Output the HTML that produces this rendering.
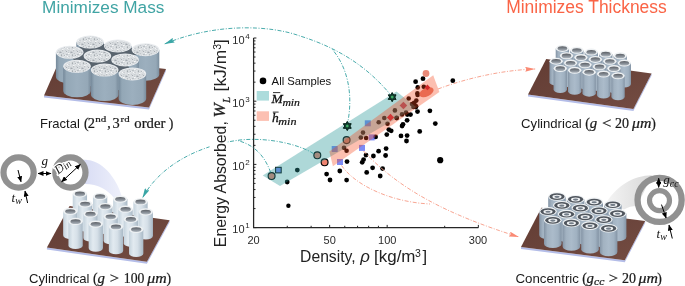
<!DOCTYPE html>
<html><head><meta charset="utf-8"><style>
html,body{margin:0;padding:0;background:#fff;width:685px;height:286px;overflow:hidden}
svg{display:block;will-change:transform}
</style></head><body>
<svg width="685" height="286" viewBox="0 0 685 286">

<defs>
 <linearGradient id="tubeG" x1="0" x2="1" y1="0" y2="0">
  <stop offset="0" stop-color="#8595a6"/>
  <stop offset="0.2" stop-color="#a2b2c1"/>
  <stop offset="0.5" stop-color="#abbbca"/>
  <stop offset="0.8" stop-color="#a0b1c1"/>
  <stop offset="1" stop-color="#8494a5"/>
 </linearGradient>
 <linearGradient id="tubeL" x1="0" x2="1" y1="0" y2="0">
  <stop offset="0" stop-color="#c4d2dc"/>
  <stop offset="0.3" stop-color="#e2eaf0"/>
  <stop offset="0.6" stop-color="#d6e0e8"/>
  <stop offset="1" stop-color="#a9b9c6"/>
 </linearGradient>
 <linearGradient id="fracG" x1="0" x2="1" y1="0" y2="0">
  <stop offset="0" stop-color="#75899a"/>
  <stop offset="0.12" stop-color="#93a7b6"/>
  <stop offset="0.5" stop-color="#9cafbe"/>
  <stop offset="0.88" stop-color="#95a8b7"/>
  <stop offset="1" stop-color="#7a8d9d"/>
 </linearGradient>
 <linearGradient id="holeG" x1="0" x2="0" y1="0" y2="1">
  <stop offset="0" stop-color="#5b5f65"/>
  <stop offset="0.55" stop-color="#858c94"/>
  <stop offset="1" stop-color="#b0b8c0"/>
 </linearGradient>
 <linearGradient id="plateG" x1="0" x2="1" y1="0" y2="1">
  <stop offset="0" stop-color="#633c33"/>
  <stop offset="0.5" stop-color="#6a443b"/>
  <stop offset="1" stop-color="#744c42"/>
 </linearGradient>
 <linearGradient id="wedgeL" x1="0" x2="1" y1="0" y2="0">
  <stop offset="0" stop-color="#d8dcf4"/>
  <stop offset="1" stop-color="#eef0fb"/>
 </linearGradient>
 <linearGradient id="wedgeR" x1="1" x2="0" y1="0" y2="0">
  <stop offset="0" stop-color="#d8d8d8"/>
  <stop offset="1" stop-color="#f4f4f4"/>
 </linearGradient>
 <pattern id="speck" width="11" height="8" patternUnits="userSpaceOnUse">
  <rect width="11" height="8" fill="#d9dde0"/>
  <circle cx="2.62" cy="4.35" r="0.52" fill="#b0b6bb"/>
  <circle cx="6.88" cy="0.52" r="0.36" fill="#b0b6bb"/>
  <circle cx="2.85" cy="1.87" r="0.80" fill="#b0b6bb"/>
  <circle cx="5.95" cy="4.40" r="0.53" fill="#9aa1a7"/>
  <circle cx="2.55" cy="1.21" r="0.77" fill="#eef0f2"/>
  <circle cx="8.15" cy="5.37" r="0.38" fill="#7d858c"/>
  <circle cx="3.31" cy="0.25" r="0.74" fill="#b0b6bb"/>
  <circle cx="6.54" cy="7.36" r="0.52" fill="#eef0f2"/>
  <circle cx="4.34" cy="6.41" r="0.55" fill="#9aa1a7"/>
  <circle cx="9.67" cy="0.78" r="0.41" fill="#f4f6f7"/>
  <circle cx="2.84" cy="5.38" r="0.70" fill="#ffffff"/>
  <circle cx="4.63" cy="6.67" r="0.61" fill="#eef0f2"/>
  <circle cx="6.43" cy="7.23" r="0.66" fill="#7d858c"/>
  <circle cx="9.42" cy="7.93" r="0.65" fill="#9aa1a7"/>
  <circle cx="7.68" cy="2.61" r="0.59" fill="#8c939a"/>
  <circle cx="7.85" cy="1.69" r="0.72" fill="#ffffff"/>
  <circle cx="3.13" cy="0.51" r="0.73" fill="#b0b6bb"/>
  <circle cx="0.97" cy="6.40" r="0.53" fill="#9aa1a7"/>
  <circle cx="0.22" cy="3.42" r="0.54" fill="#8c939a"/>
  <circle cx="0.49" cy="4.92" r="0.37" fill="#fbfcfc"/>
  <circle cx="6.06" cy="7.38" r="0.48" fill="#f4f6f7"/>
  <circle cx="10.98" cy="2.48" r="0.38" fill="#7d858c"/>
  <circle cx="10.44" cy="7.77" r="0.48" fill="#ffffff"/>
  <circle cx="1.72" cy="0.34" r="0.74" fill="#fbfcfc"/>
  <circle cx="3.96" cy="1.11" r="0.74" fill="#eef0f2"/>
  <circle cx="5.06" cy="4.16" r="0.64" fill="#8c939a"/>
 </pattern>
 <marker id="ahT" markerWidth="10" markerHeight="5" refX="10" refY="2.5" orient="auto" markerUnits="userSpaceOnUse">
  <path d="M0,0 L10,2.5 L0,5 L1.2,2.5 z" fill="#3aa6a6"/>
 </marker>
 <marker id="ahP" markerWidth="10" markerHeight="5" refX="10" refY="2.5" orient="auto" markerUnits="userSpaceOnUse">
  <path d="M0,0 L10,2.5 L0,5 L1.2,2.5 z" fill="#fa8a74"/>
 </marker>
 <marker id="ahK" markerWidth="6" markerHeight="5" refX="5.5" refY="2.5" orient="auto" markerUnits="userSpaceOnUse">
  <path d="M0,0 L6,2.5 L0,5 z" fill="#000"/>
 </marker>
 <marker id="ahKs" markerWidth="6" markerHeight="5" refX="0.5" refY="2.5" orient="auto" markerUnits="userSpaceOnUse">
  <path d="M6,0 L0,2.5 L6,5 z" fill="#000"/>
 </marker>
</defs>

<rect width="685" height="286" fill="#fff"/>
<path d="M82,160 C100,158 116,176 122,197 L114,198 C108,190 98,184 85,184 Z" fill="url(#wedgeL)"/>
<path d="M652,175.2 C633,175.5 617,186 607,201.5 L624,209.5 C628,207 632,206 637,206 Z" fill="url(#wedgeR)"/>
<polygon points="44,95.5 149,107.5 166,69 166,71.0 149,109.5 44,97.5" fill="#b4bde8"/>
<polygon points="44,95.5 149,107.5 166,69 61,57" fill="url(#plateG)"/>
<path d="M76.30,42.10 L76.30,66.60 A13.80,6.50 0 0 0 103.90,66.60 L103.90,42.10 Z" fill="url(#fracG)"/>
<path d="M104.00,45.90 L104.00,70.40 A13.80,6.50 0 0 0 131.60,70.40 L131.60,45.90 Z" fill="url(#fracG)"/>
<path d="M131.70,49.70 L131.70,74.20 A13.80,6.50 0 0 0 159.30,74.20 L159.30,49.70 Z" fill="url(#fracG)"/>
<path d="M55.90,52.30 L55.90,76.80 A13.80,6.50 0 0 0 83.50,76.80 L83.50,52.30 Z" fill="url(#fracG)"/>
<path d="M83.60,56.10 L83.60,80.60 A13.80,6.50 0 0 0 111.20,80.60 L111.20,56.10 Z" fill="url(#fracG)"/>
<path d="M111.30,59.90 L111.30,84.40 A13.80,6.50 0 0 0 138.90,84.40 L138.90,59.90 Z" fill="url(#fracG)"/>
<path d="M63.20,66.30 L63.20,90.80 A13.80,6.50 0 0 0 90.80,90.80 L90.80,66.30 Z" fill="url(#fracG)"/>
<path d="M90.90,70.10 L90.90,94.60 A13.80,6.50 0 0 0 118.50,94.60 L118.50,70.10 Z" fill="url(#fracG)"/>
<path d="M118.60,73.90 L118.60,98.40 A13.80,6.50 0 0 0 146.20,98.40 L146.20,73.90 Z" fill="url(#fracG)"/>
<polygon points="90.1,42.1 117.8,45.9 145.5,49.7 125.1,59.9 132.4,73.9 104.7,70.1 77,66.3 69.7,52.3" fill="#59646e"/>
<ellipse cx="90.10" cy="42.10" rx="13.80" ry="6.50" fill="#e8ebee"/>
<ellipse cx="90.10" cy="42.40" rx="12.70" ry="5.80" fill="url(#speck)"/>
<ellipse cx="117.80" cy="45.90" rx="13.80" ry="6.50" fill="#e8ebee"/>
<ellipse cx="117.80" cy="46.20" rx="12.70" ry="5.80" fill="url(#speck)"/>
<ellipse cx="145.50" cy="49.70" rx="13.80" ry="6.50" fill="#e8ebee"/>
<ellipse cx="145.50" cy="50.00" rx="12.70" ry="5.80" fill="url(#speck)"/>
<ellipse cx="69.70" cy="52.30" rx="13.80" ry="6.50" fill="#e8ebee"/>
<ellipse cx="69.70" cy="52.60" rx="12.70" ry="5.80" fill="url(#speck)"/>
<ellipse cx="97.40" cy="56.10" rx="13.80" ry="6.50" fill="#e8ebee"/>
<ellipse cx="97.40" cy="56.40" rx="12.70" ry="5.80" fill="url(#speck)"/>
<ellipse cx="125.10" cy="59.90" rx="13.80" ry="6.50" fill="#e8ebee"/>
<ellipse cx="125.10" cy="60.20" rx="12.70" ry="5.80" fill="url(#speck)"/>
<ellipse cx="77.00" cy="66.30" rx="13.80" ry="6.50" fill="#e8ebee"/>
<ellipse cx="77.00" cy="66.60" rx="12.70" ry="5.80" fill="url(#speck)"/>
<ellipse cx="104.70" cy="70.10" rx="13.80" ry="6.50" fill="#e8ebee"/>
<ellipse cx="104.70" cy="70.40" rx="12.70" ry="5.80" fill="url(#speck)"/>
<ellipse cx="132.40" cy="73.90" rx="13.80" ry="6.50" fill="#e8ebee"/>
<ellipse cx="132.40" cy="74.20" rx="12.70" ry="5.80" fill="url(#speck)"/>
<polygon points="46.9,247.6 146.9,261.8 169.6,220.3 169.6,222.3 146.9,263.8 46.9,249.6" fill="#b4bde8"/>
<polygon points="46.9,247.6 146.9,261.8 169.6,220.3 69.6,206.1" fill="url(#plateG)"/>
<path d="M72.75,193.80 L72.75,217.80 A7.15,3.60 0 0 0 87.05,217.80 L87.05,193.80 Z" fill="url(#tubeL)"/>
<ellipse cx="79.90" cy="193.80" rx="7.15" ry="3.60" fill="#eef1f3"/>
<ellipse cx="79.90" cy="194.00" rx="5.15" ry="2.38" fill="url(#holeG)"/>
<path d="M92.95,196.45 L92.95,220.45 A7.15,3.60 0 0 0 107.25,220.45 L107.25,196.45 Z" fill="url(#tubeL)"/>
<ellipse cx="100.10" cy="196.45" rx="7.15" ry="3.60" fill="#eef1f3"/>
<ellipse cx="100.10" cy="196.65" rx="5.15" ry="2.38" fill="url(#holeG)"/>
<path d="M113.15,199.10 L113.15,223.10 A7.15,3.60 0 0 0 127.45,223.10 L127.45,199.10 Z" fill="url(#tubeL)"/>
<ellipse cx="120.30" cy="199.10" rx="7.15" ry="3.60" fill="#eef1f3"/>
<ellipse cx="120.30" cy="199.30" rx="5.15" ry="2.38" fill="url(#holeG)"/>
<path d="M133.35,201.75 L133.35,225.75 A7.15,3.60 0 0 0 147.65,225.75 L147.65,201.75 Z" fill="url(#tubeL)"/>
<ellipse cx="140.50" cy="201.75" rx="7.15" ry="3.60" fill="#eef1f3"/>
<ellipse cx="140.50" cy="201.95" rx="5.15" ry="2.38" fill="url(#holeG)"/>
<path d="M78.05,203.90 L78.05,227.90 A7.15,3.60 0 0 0 92.35,227.90 L92.35,203.90 Z" fill="url(#tubeL)"/>
<ellipse cx="85.20" cy="203.90" rx="7.15" ry="3.60" fill="#eef1f3"/>
<ellipse cx="85.20" cy="204.10" rx="5.15" ry="2.38" fill="url(#holeG)"/>
<path d="M98.25,206.55 L98.25,230.55 A7.15,3.60 0 0 0 112.55,230.55 L112.55,206.55 Z" fill="url(#tubeL)"/>
<ellipse cx="105.40" cy="206.55" rx="7.15" ry="3.60" fill="#eef1f3"/>
<ellipse cx="105.40" cy="206.75" rx="5.15" ry="2.38" fill="url(#holeG)"/>
<path d="M118.45,209.20 L118.45,233.20 A7.15,3.60 0 0 0 132.75,233.20 L132.75,209.20 Z" fill="url(#tubeL)"/>
<ellipse cx="125.60" cy="209.20" rx="7.15" ry="3.60" fill="#eef1f3"/>
<ellipse cx="125.60" cy="209.40" rx="5.15" ry="2.38" fill="url(#holeG)"/>
<path d="M63.15,211.35 L63.15,235.35 A7.15,3.60 0 0 0 77.45,235.35 L77.45,211.35 Z" fill="url(#tubeL)"/>
<ellipse cx="70.30" cy="211.35" rx="7.15" ry="3.60" fill="#eef1f3"/>
<ellipse cx="70.30" cy="211.55" rx="5.15" ry="2.38" fill="url(#holeG)"/>
<path d="M138.65,211.85 L138.65,235.85 A7.15,3.60 0 0 0 152.95,235.85 L152.95,211.85 Z" fill="url(#tubeL)"/>
<ellipse cx="145.80" cy="211.85" rx="7.15" ry="3.60" fill="#eef1f3"/>
<ellipse cx="145.80" cy="212.05" rx="5.15" ry="2.38" fill="url(#holeG)"/>
<path d="M83.35,214.00 L83.35,238.00 A7.15,3.60 0 0 0 97.65,238.00 L97.65,214.00 Z" fill="url(#tubeL)"/>
<ellipse cx="90.50" cy="214.00" rx="7.15" ry="3.60" fill="#eef1f3"/>
<ellipse cx="90.50" cy="214.20" rx="5.15" ry="2.38" fill="url(#holeG)"/>
<path d="M103.55,216.65 L103.55,240.65 A7.15,3.60 0 0 0 117.85,240.65 L117.85,216.65 Z" fill="url(#tubeL)"/>
<ellipse cx="110.70" cy="216.65" rx="7.15" ry="3.60" fill="#eef1f3"/>
<ellipse cx="110.70" cy="216.85" rx="5.15" ry="2.38" fill="url(#holeG)"/>
<path d="M123.75,219.30 L123.75,243.30 A7.15,3.60 0 0 0 138.05,243.30 L138.05,219.30 Z" fill="url(#tubeL)"/>
<ellipse cx="130.90" cy="219.30" rx="7.15" ry="3.60" fill="#eef1f3"/>
<ellipse cx="130.90" cy="219.50" rx="5.15" ry="2.38" fill="url(#holeG)"/>
<path d="M68.45,221.45 L68.45,245.45 A7.15,3.60 0 0 0 82.75,245.45 L82.75,221.45 Z" fill="url(#tubeL)"/>
<ellipse cx="75.60" cy="221.45" rx="7.15" ry="3.60" fill="#eef1f3"/>
<ellipse cx="75.60" cy="221.65" rx="5.15" ry="2.38" fill="url(#holeG)"/>
<path d="M88.65,224.10 L88.65,248.10 A7.15,3.60 0 0 0 102.95,248.10 L102.95,224.10 Z" fill="url(#tubeL)"/>
<ellipse cx="95.80" cy="224.10" rx="7.15" ry="3.60" fill="#eef1f3"/>
<ellipse cx="95.80" cy="224.30" rx="5.15" ry="2.38" fill="url(#holeG)"/>
<path d="M108.85,226.75 L108.85,250.75 A7.15,3.60 0 0 0 123.15,250.75 L123.15,226.75 Z" fill="url(#tubeL)"/>
<ellipse cx="116.00" cy="226.75" rx="7.15" ry="3.60" fill="#eef1f3"/>
<ellipse cx="116.00" cy="226.95" rx="5.15" ry="2.38" fill="url(#holeG)"/>
<path d="M129.05,229.40 L129.05,253.40 A7.15,3.60 0 0 0 143.35,253.40 L143.35,229.40 Z" fill="url(#tubeL)"/>
<ellipse cx="136.20" cy="229.40" rx="7.15" ry="3.60" fill="#eef1f3"/>
<ellipse cx="136.20" cy="229.60" rx="5.15" ry="2.38" fill="url(#holeG)"/>
<polygon points="528,94.4 633.4,109.1 651.6,73.6 651.6,75.6 633.4,111.1 528,96.4" fill="#b4bde8"/>
<polygon points="528,94.4 633.4,109.1 651.6,73.6 546.2,58.9" fill="url(#plateG)"/>
<path d="M555.70,48.40 L555.70,69.40 A6.70,3.50 0 0 0 569.10,69.40 L569.10,48.40 Z" fill="url(#tubeG)"/>
<ellipse cx="562.40" cy="48.40" rx="6.70" ry="3.50" fill="#eef1f3"/>
<ellipse cx="562.40" cy="48.60" rx="4.82" ry="2.31" fill="url(#holeG)"/>
<path d="M570.15,50.25 L570.15,71.25 A6.70,3.50 0 0 0 583.55,71.25 L583.55,50.25 Z" fill="url(#tubeG)"/>
<ellipse cx="576.85" cy="50.25" rx="6.70" ry="3.50" fill="#eef1f3"/>
<ellipse cx="576.85" cy="50.45" rx="4.82" ry="2.31" fill="url(#holeG)"/>
<path d="M584.60,52.10 L584.60,73.10 A6.70,3.50 0 0 0 598.00,73.10 L598.00,52.10 Z" fill="url(#tubeG)"/>
<ellipse cx="591.30" cy="52.10" rx="6.70" ry="3.50" fill="#eef1f3"/>
<ellipse cx="591.30" cy="52.30" rx="4.82" ry="2.31" fill="url(#holeG)"/>
<path d="M599.05,53.95 L599.05,74.95 A6.70,3.50 0 0 0 612.45,74.95 L612.45,53.95 Z" fill="url(#tubeG)"/>
<ellipse cx="605.75" cy="53.95" rx="6.70" ry="3.50" fill="#eef1f3"/>
<ellipse cx="605.75" cy="54.15" rx="4.82" ry="2.31" fill="url(#holeG)"/>
<path d="M559.80,55.70 L559.80,76.70 A6.70,3.50 0 0 0 573.20,76.70 L573.20,55.70 Z" fill="url(#tubeG)"/>
<ellipse cx="566.50" cy="55.70" rx="6.70" ry="3.50" fill="#eef1f3"/>
<ellipse cx="566.50" cy="55.90" rx="4.82" ry="2.31" fill="url(#holeG)"/>
<path d="M613.50,55.80 L613.50,76.80 A6.70,3.50 0 0 0 626.90,76.80 L626.90,55.80 Z" fill="url(#tubeG)"/>
<ellipse cx="620.20" cy="55.80" rx="6.70" ry="3.50" fill="#eef1f3"/>
<ellipse cx="620.20" cy="56.00" rx="4.82" ry="2.31" fill="url(#holeG)"/>
<path d="M574.25,57.55 L574.25,78.55 A6.70,3.50 0 0 0 587.65,78.55 L587.65,57.55 Z" fill="url(#tubeG)"/>
<ellipse cx="580.95" cy="57.55" rx="6.70" ry="3.50" fill="#eef1f3"/>
<ellipse cx="580.95" cy="57.75" rx="4.82" ry="2.31" fill="url(#holeG)"/>
<path d="M588.70,59.40 L588.70,80.40 A6.70,3.50 0 0 0 602.10,80.40 L602.10,59.40 Z" fill="url(#tubeG)"/>
<ellipse cx="595.40" cy="59.40" rx="6.70" ry="3.50" fill="#eef1f3"/>
<ellipse cx="595.40" cy="59.60" rx="4.82" ry="2.31" fill="url(#holeG)"/>
<path d="M549.45,61.15 L549.45,82.15 A6.70,3.50 0 0 0 562.85,82.15 L562.85,61.15 Z" fill="url(#tubeG)"/>
<ellipse cx="556.15" cy="61.15" rx="6.70" ry="3.50" fill="#eef1f3"/>
<ellipse cx="556.15" cy="61.35" rx="4.82" ry="2.31" fill="url(#holeG)"/>
<path d="M603.15,61.25 L603.15,82.25 A6.70,3.50 0 0 0 616.55,82.25 L616.55,61.25 Z" fill="url(#tubeG)"/>
<ellipse cx="609.85" cy="61.25" rx="6.70" ry="3.50" fill="#eef1f3"/>
<ellipse cx="609.85" cy="61.45" rx="4.82" ry="2.31" fill="url(#holeG)"/>
<path d="M563.90,63.00 L563.90,84.00 A6.70,3.50 0 0 0 577.30,84.00 L577.30,63.00 Z" fill="url(#tubeG)"/>
<ellipse cx="570.60" cy="63.00" rx="6.70" ry="3.50" fill="#eef1f3"/>
<ellipse cx="570.60" cy="63.20" rx="4.82" ry="2.31" fill="url(#holeG)"/>
<path d="M617.60,63.10 L617.60,84.10 A6.70,3.50 0 0 0 631.00,84.10 L631.00,63.10 Z" fill="url(#tubeG)"/>
<ellipse cx="624.30" cy="63.10" rx="6.70" ry="3.50" fill="#eef1f3"/>
<ellipse cx="624.30" cy="63.30" rx="4.82" ry="2.31" fill="url(#holeG)"/>
<path d="M578.35,64.85 L578.35,85.85 A6.70,3.50 0 0 0 591.75,85.85 L591.75,64.85 Z" fill="url(#tubeG)"/>
<ellipse cx="585.05" cy="64.85" rx="6.70" ry="3.50" fill="#eef1f3"/>
<ellipse cx="585.05" cy="65.05" rx="4.82" ry="2.31" fill="url(#holeG)"/>
<path d="M592.80,66.70 L592.80,87.70 A6.70,3.50 0 0 0 606.20,87.70 L606.20,66.70 Z" fill="url(#tubeG)"/>
<ellipse cx="599.50" cy="66.70" rx="6.70" ry="3.50" fill="#eef1f3"/>
<ellipse cx="599.50" cy="66.90" rx="4.82" ry="2.31" fill="url(#holeG)"/>
<path d="M553.55,68.45 L553.55,89.45 A6.70,3.50 0 0 0 566.95,89.45 L566.95,68.45 Z" fill="url(#tubeG)"/>
<ellipse cx="560.25" cy="68.45" rx="6.70" ry="3.50" fill="#eef1f3"/>
<ellipse cx="560.25" cy="68.65" rx="4.82" ry="2.31" fill="url(#holeG)"/>
<path d="M607.25,68.55 L607.25,89.55 A6.70,3.50 0 0 0 620.65,89.55 L620.65,68.55 Z" fill="url(#tubeG)"/>
<ellipse cx="613.95" cy="68.55" rx="6.70" ry="3.50" fill="#eef1f3"/>
<ellipse cx="613.95" cy="68.75" rx="4.82" ry="2.31" fill="url(#holeG)"/>
<path d="M568.00,70.30 L568.00,91.30 A6.70,3.50 0 0 0 581.40,91.30 L581.40,70.30 Z" fill="url(#tubeG)"/>
<ellipse cx="574.70" cy="70.30" rx="6.70" ry="3.50" fill="#eef1f3"/>
<ellipse cx="574.70" cy="70.50" rx="4.82" ry="2.31" fill="url(#holeG)"/>
<path d="M582.45,72.15 L582.45,93.15 A6.70,3.50 0 0 0 595.85,93.15 L595.85,72.15 Z" fill="url(#tubeG)"/>
<ellipse cx="589.15" cy="72.15" rx="6.70" ry="3.50" fill="#eef1f3"/>
<ellipse cx="589.15" cy="72.35" rx="4.82" ry="2.31" fill="url(#holeG)"/>
<path d="M596.90,74.00 L596.90,95.00 A6.70,3.50 0 0 0 610.30,95.00 L610.30,74.00 Z" fill="url(#tubeG)"/>
<ellipse cx="603.60" cy="74.00" rx="6.70" ry="3.50" fill="#eef1f3"/>
<ellipse cx="603.60" cy="74.20" rx="4.82" ry="2.31" fill="url(#holeG)"/>
<path d="M611.35,75.85 L611.35,96.85 A6.70,3.50 0 0 0 624.75,96.85 L624.75,75.85 Z" fill="url(#tubeG)"/>
<ellipse cx="618.05" cy="75.85" rx="6.70" ry="3.50" fill="#eef1f3"/>
<ellipse cx="618.05" cy="76.05" rx="4.82" ry="2.31" fill="url(#holeG)"/>
<polygon points="521,247 624.8,260.2 645.2,220.9 645.2,222.9 624.8,262.2 521,249.0" fill="#b4bde8"/>
<polygon points="521,247 624.8,260.2 645.2,220.9 541.4,207.7" fill="url(#plateG)"/>
<path d="M548.20,196.50 L548.20,220.10 A8.80,4.30 0 0 0 565.80,220.10 L565.80,196.50 Z" fill="url(#tubeG)"/>
<ellipse cx="557.00" cy="196.50" rx="8.80" ry="4.30" fill="#eef1f3"/>
<ellipse cx="557.00" cy="196.65" rx="7.57" ry="3.35" fill="#50565e"/>
<ellipse cx="557.00" cy="196.80" rx="4.58" ry="1.98" fill="#f0f2f4"/>
<ellipse cx="557.00" cy="196.85" rx="2.64" ry="1.12" fill="#737d88"/>
<path d="M566.80,199.20 L566.80,222.80 A8.80,4.30 0 0 0 584.40,222.80 L584.40,199.20 Z" fill="url(#tubeG)"/>
<ellipse cx="575.60" cy="199.20" rx="8.80" ry="4.30" fill="#eef1f3"/>
<ellipse cx="575.60" cy="199.35" rx="7.57" ry="3.35" fill="#50565e"/>
<ellipse cx="575.60" cy="199.50" rx="4.58" ry="1.98" fill="#f0f2f4"/>
<ellipse cx="575.60" cy="199.55" rx="2.64" ry="1.12" fill="#737d88"/>
<path d="M585.40,201.90 L585.40,225.50 A8.80,4.30 0 0 0 603.00,225.50 L603.00,201.90 Z" fill="url(#tubeG)"/>
<ellipse cx="594.20" cy="201.90" rx="8.80" ry="4.30" fill="#eef1f3"/>
<ellipse cx="594.20" cy="202.05" rx="7.57" ry="3.35" fill="#50565e"/>
<ellipse cx="594.20" cy="202.20" rx="4.58" ry="1.98" fill="#f0f2f4"/>
<ellipse cx="594.20" cy="202.25" rx="2.64" ry="1.12" fill="#737d88"/>
<path d="M604.00,204.60 L604.00,228.20 A8.80,4.30 0 0 0 621.60,228.20 L621.60,204.60 Z" fill="url(#tubeG)"/>
<ellipse cx="612.80" cy="204.60" rx="8.80" ry="4.30" fill="#eef1f3"/>
<ellipse cx="612.80" cy="204.75" rx="7.57" ry="3.35" fill="#50565e"/>
<ellipse cx="612.80" cy="204.90" rx="4.58" ry="1.98" fill="#f0f2f4"/>
<ellipse cx="612.80" cy="204.95" rx="2.64" ry="1.12" fill="#737d88"/>
<path d="M553.00,205.30 L553.00,228.90 A8.80,4.30 0 0 0 570.60,228.90 L570.60,205.30 Z" fill="url(#tubeG)"/>
<ellipse cx="561.80" cy="205.30" rx="8.80" ry="4.30" fill="#eef1f3"/>
<ellipse cx="561.80" cy="205.45" rx="7.57" ry="3.35" fill="#50565e"/>
<ellipse cx="561.80" cy="205.60" rx="4.58" ry="1.98" fill="#f0f2f4"/>
<ellipse cx="561.80" cy="205.65" rx="2.64" ry="1.12" fill="#737d88"/>
<path d="M571.60,208.00 L571.60,231.60 A8.80,4.30 0 0 0 589.20,231.60 L589.20,208.00 Z" fill="url(#tubeG)"/>
<ellipse cx="580.40" cy="208.00" rx="8.80" ry="4.30" fill="#eef1f3"/>
<ellipse cx="580.40" cy="208.15" rx="7.57" ry="3.35" fill="#50565e"/>
<ellipse cx="580.40" cy="208.30" rx="4.58" ry="1.98" fill="#f0f2f4"/>
<ellipse cx="580.40" cy="208.35" rx="2.64" ry="1.12" fill="#737d88"/>
<path d="M590.20,210.70 L590.20,234.30 A8.80,4.30 0 0 0 607.80,234.30 L607.80,210.70 Z" fill="url(#tubeG)"/>
<ellipse cx="599.00" cy="210.70" rx="8.80" ry="4.30" fill="#eef1f3"/>
<ellipse cx="599.00" cy="210.85" rx="7.57" ry="3.35" fill="#50565e"/>
<ellipse cx="599.00" cy="211.00" rx="4.58" ry="1.98" fill="#f0f2f4"/>
<ellipse cx="599.00" cy="211.05" rx="2.64" ry="1.12" fill="#737d88"/>
<path d="M539.20,211.40 L539.20,235.00 A8.80,4.30 0 0 0 556.80,235.00 L556.80,211.40 Z" fill="url(#tubeG)"/>
<ellipse cx="548.00" cy="211.40" rx="8.80" ry="4.30" fill="#eef1f3"/>
<ellipse cx="548.00" cy="211.55" rx="7.57" ry="3.35" fill="#50565e"/>
<ellipse cx="548.00" cy="211.70" rx="4.58" ry="1.98" fill="#f0f2f4"/>
<ellipse cx="548.00" cy="211.75" rx="2.64" ry="1.12" fill="#737d88"/>
<path d="M608.80,213.40 L608.80,237.00 A8.80,4.30 0 0 0 626.40,237.00 L626.40,213.40 Z" fill="url(#tubeG)"/>
<ellipse cx="617.60" cy="213.40" rx="8.80" ry="4.30" fill="#eef1f3"/>
<ellipse cx="617.60" cy="213.55" rx="7.57" ry="3.35" fill="#50565e"/>
<ellipse cx="617.60" cy="213.70" rx="4.58" ry="1.98" fill="#f0f2f4"/>
<ellipse cx="617.60" cy="213.75" rx="2.64" ry="1.12" fill="#737d88"/>
<path d="M557.80,214.10 L557.80,237.70 A8.80,4.30 0 0 0 575.40,237.70 L575.40,214.10 Z" fill="url(#tubeG)"/>
<ellipse cx="566.60" cy="214.10" rx="8.80" ry="4.30" fill="#eef1f3"/>
<ellipse cx="566.60" cy="214.25" rx="7.57" ry="3.35" fill="#50565e"/>
<ellipse cx="566.60" cy="214.40" rx="4.58" ry="1.98" fill="#f0f2f4"/>
<ellipse cx="566.60" cy="214.45" rx="2.64" ry="1.12" fill="#737d88"/>
<path d="M576.40,216.80 L576.40,240.40 A8.80,4.30 0 0 0 594.00,240.40 L594.00,216.80 Z" fill="url(#tubeG)"/>
<ellipse cx="585.20" cy="216.80" rx="8.80" ry="4.30" fill="#eef1f3"/>
<ellipse cx="585.20" cy="216.95" rx="7.57" ry="3.35" fill="#50565e"/>
<ellipse cx="585.20" cy="217.10" rx="4.58" ry="1.98" fill="#f0f2f4"/>
<ellipse cx="585.20" cy="217.15" rx="2.64" ry="1.12" fill="#737d88"/>
<path d="M595.00,219.50 L595.00,243.10 A8.80,4.30 0 0 0 612.60,243.10 L612.60,219.50 Z" fill="url(#tubeG)"/>
<ellipse cx="603.80" cy="219.50" rx="8.80" ry="4.30" fill="#eef1f3"/>
<ellipse cx="603.80" cy="219.65" rx="7.57" ry="3.35" fill="#50565e"/>
<ellipse cx="603.80" cy="219.80" rx="4.58" ry="1.98" fill="#f0f2f4"/>
<ellipse cx="603.80" cy="219.85" rx="2.64" ry="1.12" fill="#737d88"/>
<path d="M544.00,220.20 L544.00,243.80 A8.80,4.30 0 0 0 561.60,243.80 L561.60,220.20 Z" fill="url(#tubeG)"/>
<ellipse cx="552.80" cy="220.20" rx="8.80" ry="4.30" fill="#eef1f3"/>
<ellipse cx="552.80" cy="220.35" rx="7.57" ry="3.35" fill="#50565e"/>
<ellipse cx="552.80" cy="220.50" rx="4.58" ry="1.98" fill="#f0f2f4"/>
<ellipse cx="552.80" cy="220.55" rx="2.64" ry="1.12" fill="#737d88"/>
<path d="M562.60,222.90 L562.60,246.50 A8.80,4.30 0 0 0 580.20,246.50 L580.20,222.90 Z" fill="url(#tubeG)"/>
<ellipse cx="571.40" cy="222.90" rx="8.80" ry="4.30" fill="#eef1f3"/>
<ellipse cx="571.40" cy="223.05" rx="7.57" ry="3.35" fill="#50565e"/>
<ellipse cx="571.40" cy="223.20" rx="4.58" ry="1.98" fill="#f0f2f4"/>
<ellipse cx="571.40" cy="223.25" rx="2.64" ry="1.12" fill="#737d88"/>
<path d="M581.20,225.60 L581.20,249.20 A8.80,4.30 0 0 0 598.80,249.20 L598.80,225.60 Z" fill="url(#tubeG)"/>
<ellipse cx="590.00" cy="225.60" rx="8.80" ry="4.30" fill="#eef1f3"/>
<ellipse cx="590.00" cy="225.75" rx="7.57" ry="3.35" fill="#50565e"/>
<ellipse cx="590.00" cy="225.90" rx="4.58" ry="1.98" fill="#f0f2f4"/>
<ellipse cx="590.00" cy="225.95" rx="2.64" ry="1.12" fill="#737d88"/>
<path d="M599.80,228.30 L599.80,251.90 A8.80,4.30 0 0 0 617.40,251.90 L617.40,228.30 Z" fill="url(#tubeG)"/>
<ellipse cx="608.60" cy="228.30" rx="8.80" ry="4.30" fill="#eef1f3"/>
<ellipse cx="608.60" cy="228.45" rx="7.57" ry="3.35" fill="#50565e"/>
<ellipse cx="608.60" cy="228.60" rx="4.58" ry="1.98" fill="#f0f2f4"/>
<ellipse cx="608.60" cy="228.65" rx="2.64" ry="1.12" fill="#737d88"/>
<circle cx="287.2" cy="182" r="2.4" fill="#000"/>
<circle cx="288.4" cy="205.7" r="2.2" fill="#000"/>
<circle cx="297.3" cy="170.1" r="2.4" fill="#000"/>
<circle cx="326.6" cy="174.1" r="2.4" fill="#000"/>
<circle cx="330" cy="180" r="2.4" fill="#000"/>
<circle cx="339.8" cy="171" r="2.4" fill="#000"/>
<circle cx="347" cy="161.6" r="2.4" fill="#000"/>
<circle cx="346.6" cy="180.1" r="2.4" fill="#000"/>
<circle cx="362.2" cy="162.3" r="2.4" fill="#000"/>
<circle cx="363.6" cy="159.6" r="2.4" fill="#000"/>
<circle cx="366" cy="155.1" r="2.4" fill="#000"/>
<circle cx="373.4" cy="156" r="2.4" fill="#000"/>
<circle cx="378.6" cy="151.2" r="2.4" fill="#000"/>
<circle cx="372.6" cy="167.8" r="2.4" fill="#000"/>
<circle cx="366.7" cy="172.4" r="2.4" fill="#000"/>
<circle cx="380.2" cy="176" r="2.4" fill="#000"/>
<circle cx="386.1" cy="148.6" r="2.4" fill="#000"/>
<circle cx="385.6" cy="155.5" r="2.4" fill="#000"/>
<circle cx="382.6" cy="168.6" r="2.4" fill="#000"/>
<circle cx="375.6" cy="136.9" r="2.4" fill="#000"/>
<circle cx="388.8" cy="129.6" r="2.4" fill="#000"/>
<circle cx="391.2" cy="130.8" r="2.4" fill="#000"/>
<circle cx="386.8" cy="134.6" r="2.4" fill="#000"/>
<circle cx="401" cy="135.9" r="2.4" fill="#000"/>
<circle cx="407.1" cy="135.6" r="2.4" fill="#000"/>
<circle cx="406.5" cy="141" r="2.4" fill="#000"/>
<circle cx="419.7" cy="131.4" r="2.4" fill="#000"/>
<circle cx="429.9" cy="110.8" r="2.4" fill="#000"/>
<circle cx="435.3" cy="123.6" r="2.4" fill="#000"/>
<circle cx="440.2" cy="160.2" r="3.1" fill="#000"/>
<circle cx="452.8" cy="80.7" r="2.4" fill="#000"/>
<circle cx="415.6" cy="81.7" r="2.4" fill="#000"/>
<circle cx="423" cy="78.7" r="2.4" fill="#000"/>
<circle cx="415.8" cy="107" r="2.4" fill="#000"/>
<circle cx="417.5" cy="111.6" r="2.4" fill="#000"/>
<circle cx="410.5" cy="114.6" r="2.4" fill="#000"/>
<circle cx="407.3" cy="114.6" r="2.4" fill="#000"/>
<circle cx="407.1" cy="120.3" r="2.4" fill="#000"/>
<circle cx="403" cy="124.3" r="2.4" fill="#000"/>
<circle cx="402.1" cy="126" r="2.4" fill="#000"/>
<circle cx="416.2" cy="106.3" r="2.2" fill="#000"/>
<circle cx="344" cy="147.7" r="2.3" fill="#000"/>
<circle cx="346.6" cy="150.7" r="2.3" fill="#000"/>
<circle cx="363" cy="132.6" r="2.3" fill="#000"/>
<circle cx="360.8" cy="137.5" r="2.3" fill="#000"/>
<circle cx="366.1" cy="138" r="2.3" fill="#000"/>
<circle cx="378.7" cy="122.3" r="2.3" fill="#000"/>
<circle cx="384.3" cy="118" r="2.3" fill="#000"/>
<circle cx="387.5" cy="123.7" r="2.3" fill="#000"/>
<circle cx="394.9" cy="110.4" r="2.3" fill="#000"/>
<circle cx="396.6" cy="117.7" r="2.3" fill="#000"/>
<circle cx="402" cy="114.4" r="2.3" fill="#000"/>
<circle cx="406" cy="112.6" r="2.3" fill="#000"/>
<circle cx="408.7" cy="98.5" r="2.3" fill="#000"/>
<circle cx="414.1" cy="102.9" r="2.3" fill="#000"/>
<circle cx="416.3" cy="100.6" r="2.3" fill="#000"/>
<circle cx="413.4" cy="107" r="2.3" fill="#000"/>
<circle cx="414.4" cy="104.5" r="2.3" fill="#000"/>
<circle cx="417.6" cy="95" r="2.3" fill="#000"/>
<circle cx="417.7" cy="87.4" r="2.3" fill="#000"/>
<circle cx="423.8" cy="86.7" r="2.3" fill="#000"/>
<circle cx="417.4" cy="93.3" r="2.3" fill="#000"/>
<circle cx="396.7" cy="118.1" r="2.3" fill="#000"/>
<circle cx="412" cy="104" r="2.3" fill="#000"/>
<circle cx="271.6" cy="176" r="3.45" fill="#ee8470" stroke="#000" stroke-width="1.15"/>
<circle cx="317.3" cy="155.3" r="3.45" fill="#ee8470" stroke="#000" stroke-width="1.15"/>
<circle cx="324.6" cy="162.3" r="3.45" fill="#ee8470" stroke="#000" stroke-width="1.15"/>
<circle cx="346.6" cy="140.1" r="3.45" fill="#ee8470" stroke="#000" stroke-width="1.15"/>
<rect x="331.7" y="146" width="6" height="6" fill="rgb(70,90,240)" fill-opacity="0.7"/>
<rect x="337" y="159" width="6" height="6" fill="rgb(70,90,240)" fill-opacity="0.7"/>
<rect x="359" y="144.9" width="6" height="6" fill="rgb(70,90,240)" fill-opacity="0.7"/>
<rect x="364.8" y="120.3" width="6" height="6" fill="rgb(70,90,240)" fill-opacity="0.7"/>
<rect x="368.7" y="134.4" width="6" height="6" fill="rgb(70,90,240)" fill-opacity="0.7"/>
<rect x="275.6" y="167.3" width="5.6" height="5.6" fill="#7d8bf4" stroke="#000" stroke-width="1"/>
<polygon points="262.7,175.5 396.5,91.5 416,107 280,186" fill="rgb(42,153,153)" fill-opacity="0.38"/>
<polygon points="329.4,151.5 433.2,75.2 439.4,91.9 332.9,166.3" fill="rgb(246,72,30)" fill-opacity="0.35"/>
<polygon points="403.4,101.7 407.2,105.5 403.4,109.3 399.59999999999997,105.5" fill="#b84848" fill-opacity="0.9"/>
<polygon points="390.5,113.80000000000001 394.1,117.4 390.5,121.0 386.9,117.4" fill="#d42a2a" fill-opacity="0.9"/>
<ellipse cx="426.5" cy="92.2" rx="7.6" ry="4.2" transform="rotate(-25 426.5 92.2)" fill="#ea6a50"/>
<polygon points="427.4,84.60000000000001 430.2,87.4 427.4,90.2 424.59999999999997,87.4" fill="#d42a2a" fill-opacity="1"/>
<circle cx="426" cy="73.5" r="3.4" fill="#e98a78"/>
<polygon points="347.3,121.6 346.09000000000003,123.90421852284166 343.4894882233485,123.8 344.88,126.0 343.4894882233485,128.2 346.09000000000003,128.09578147715834 347.3,130.4 348.51,128.09578147715834 351.11051177665155,128.2 349.72,126.0 351.11051177665155,123.8 348.51,123.90421852284166" fill="#134634" stroke="#08241c" stroke-width="0.9"/>
<circle cx="347.3" cy="126" r="1.3" fill="#3fae66"/>
<polygon points="392.2,92.69999999999999 390.99,95.00421852284165 388.38948822334845,94.89999999999999 389.78,97.1 388.38948822334845,99.3 390.99,99.19578147715833 392.2,101.5 393.40999999999997,99.19578147715833 396.0105117766515,99.3 394.62,97.1 396.0105117766515,94.89999999999999 393.40999999999997,95.00421852284165" fill="#134634" stroke="#08241c" stroke-width="0.9"/>
<circle cx="392.2" cy="97.1" r="1.3" fill="#3fae66"/>
<g stroke="#262626" stroke-width="1" fill="none">
<path d="M253.6,38 L253.6,227.7 L478.4,227.7" stroke-width="1.25"/>
<path d="M253.6,227.60 h2.8000000000000003"/>
<path d="M253.6,208.57 h1.9"/>
<path d="M253.6,197.45 h1.9"/>
<path d="M253.6,189.55 h1.9"/>
<path d="M253.6,183.43 h1.9"/>
<path d="M253.6,178.42 h1.9"/>
<path d="M253.6,174.19 h1.9"/>
<path d="M253.6,170.52 h1.9"/>
<path d="M253.6,167.29 h1.9"/>
<path d="M253.6,164.40 h2.8000000000000003"/>
<path d="M253.6,145.37 h1.9"/>
<path d="M253.6,134.25 h1.9"/>
<path d="M253.6,126.35 h1.9"/>
<path d="M253.6,120.23 h1.9"/>
<path d="M253.6,115.22 h1.9"/>
<path d="M253.6,110.99 h1.9"/>
<path d="M253.6,107.32 h1.9"/>
<path d="M253.6,104.09 h1.9"/>
<path d="M253.6,101.20 h2.8000000000000003"/>
<path d="M253.6,82.17 h1.9"/>
<path d="M253.6,71.05 h1.9"/>
<path d="M253.6,63.15 h1.9"/>
<path d="M253.6,57.03 h1.9"/>
<path d="M253.6,52.02 h1.9"/>
<path d="M253.6,47.79 h1.9"/>
<path d="M253.6,44.12 h1.9"/>
<path d="M253.6,40.89 h1.9"/>
<path d="M253.6,38 h2.8"/>
<path d="M287.25,227.7 v-1.9"/>
<path d="M311.13,227.7 v-1.9"/>
<path d="M329.65,227.7 v-2.8000000000000003"/>
<path d="M344.78,227.7 v-1.9"/>
<path d="M357.57,227.7 v-1.9"/>
<path d="M368.65,227.7 v-1.9"/>
<path d="M378.43,227.7 v-1.9"/>
<path d="M387.17,227.7 v-2.8000000000000003"/>
<path d="M444.70,227.7 v-1.9"/>
<path d="M478.35,227.7 v-2.8000000000000003"/>
</g>
<g font-family='"Liberation Sans", sans-serif' font-size="11" fill="#2a2a2a">
<text x="253.5" y="243.5" text-anchor="middle">20</text>
<text x="329.7" y="243.5" text-anchor="middle">50</text>
<text x="387.3" y="243.5" text-anchor="middle">100</text>
<text x="478" y="243.5" text-anchor="middle">300</text>
<text x="244.6" y="44.3" text-anchor="end">10</text>
<text x="245.2" y="39.0" font-size="8">4</text>
<text x="244.6" y="107.3" text-anchor="end">10</text>
<text x="245.2" y="102.0" font-size="8">3</text>
<text x="244.6" y="170.3" text-anchor="end">10</text>
<text x="245.2" y="165.0" font-size="8">2</text>
<text x="244.6" y="233.3" text-anchor="end">10</text>
<text x="245.2" y="228.0" font-size="8">1</text>
</g>
<circle cx="263" cy="80.9" r="3.3" fill="#000"/>
<text x="271.6" y="85.1" font-family='"Liberation Sans", sans-serif' font-size="11.3" fill="#111">All Samples</text>
<rect x="256.7" y="91" width="12.3" height="9.6" fill="rgb(172,220,220)"/>
<rect x="256.7" y="111.3" width="12.3" height="9.6" fill="rgb(252,192,178)"/>
<text x="271.5" y="103.4" font-family='"Liberation Serif", serif' font-style="italic" font-size="13.5" fill="#111" stroke="#111" stroke-width="0.3">M</text>
<text x="282.4" y="105.8" font-family='"Liberation Serif", serif' font-style="italic" font-size="10.5" fill="#111" stroke="#111" stroke-width="0.2" textLength="17.6" lengthAdjust="spacingAndGlyphs">min</text>
<path d="M273,92.6 h7.3" stroke="#111" stroke-width="0.85"/>
<text x="272" y="122.4" font-family='"Liberation Serif", serif' font-style="italic" font-size="13.5" fill="#111" stroke="#111" stroke-width="0.3">h</text>
<text x="278.3" y="124.8" font-family='"Liberation Serif", serif' font-style="italic" font-size="10.5" fill="#111" stroke="#111" stroke-width="0.2" textLength="18.2" lengthAdjust="spacingAndGlyphs">min</text>
<path d="M272.8,112.1 h5.8" stroke="#111" stroke-width="0.85"/>
<g font-family='"Liberation Sans", sans-serif' fill="#222">
<text x="300.1" y="262" font-size="15.7">Density,</text>
<text x="360.2" y="262" font-size="16.8" font-style="italic">ρ</text>
<text x="374" y="262" font-size="16.5" textLength="41.5" lengthAdjust="spacingAndGlyphs">[kg/m</text>
<text x="415" y="256.6" font-size="10.5">3</text>
<text x="422.6" y="262" font-size="16.5">]</text>
</g>
<path d="M392,96.5 C372,72 345,50 300,36 C270,25 215,22.8 164.5,44" fill="none" stroke="#3fa6a6" stroke-width="0.95" stroke-dasharray="4 1.6 1 1.6" marker-end="url(#ahT)"/>
<path d="M347,125.8 C353,100 350,70 332,49" fill="none" stroke="#3fa6a6" stroke-width="0.95" stroke-dasharray="4 1.6 1 1.6"/>
<path d="M313.6,153.6 C300,145 270,137 240,140 C200,145 160,165 142.5,198" fill="none" stroke="#3fa6a6" stroke-width="0.95" stroke-dasharray="4 1.6 1 1.6" marker-end="url(#ahT)"/>
<path d="M270.6,172.2 C266,160 258,146 238,140.6" fill="none" stroke="#3fa6a6" stroke-width="0.95" stroke-dasharray="4 1.6 1 1.6"/>
<path d="M438,89 C470,77 505,70 535.2,69" fill="none" stroke="#f7a08c" stroke-width="0.95" stroke-dasharray="4 1.6 1 1.6" marker-end="url(#ahP)"/>
<path d="M341.5,165.5 C355,185 390,202 430,204 " fill="none" stroke="#f7a08c" stroke-width="0.95" stroke-dasharray="4 1.6 1 1.6"/>
<path d="M363.5,151 C398,188 445,214 519,237" fill="none" stroke="#f7a08c" stroke-width="0.95" stroke-dasharray="4 1.6 1 1.6" marker-end="url(#ahP)"/>
<polygon points="347.3,121.6 346.09000000000003,123.90421852284166 343.4894882233485,123.8 344.88,126.0 343.4894882233485,128.2 346.09000000000003,128.09578147715834 347.3,130.4 348.51,128.09578147715834 351.11051177665155,128.2 349.72,126.0 351.11051177665155,123.8 348.51,123.90421852284166" fill="#134634" stroke="#08241c" stroke-width="0.9"/>
<circle cx="347.3" cy="126" r="1.3" fill="#3fae66"/>
<polygon points="392.2,92.69999999999999 390.99,95.00421852284165 388.38948822334845,94.89999999999999 389.78,97.1 388.38948822334845,99.3 390.99,99.19578147715833 392.2,101.5 393.40999999999997,99.19578147715833 396.0105117766515,99.3 394.62,97.1 396.0105117766515,94.89999999999999 393.40999999999997,95.00421852284165" fill="#134634" stroke="#08241c" stroke-width="0.9"/>
<circle cx="392.2" cy="97.1" r="1.3" fill="#3fae66"/>
<g fill="none" stroke="#919191">
<circle cx="18.6" cy="172.5" r="15.1" stroke-width="6.2"/>
<circle cx="70.4" cy="172.5" r="15.1" stroke-width="6.2"/>
<circle cx="659.6" cy="199.9" r="22.05" stroke-width="6.3"/>
<circle cx="659.5" cy="200.6" r="10" stroke-width="5.2"/>
</g>
<g stroke="#000" stroke-width="1" fill="none">
<path d="M18,170 L21,181.8" marker-end="url(#ahK)"/>
<path d="M27.6,203 L25,191" marker-end="url(#ahK)"/>
<path d="M38,173.5 L51,173.5" marker-end="url(#ahK)" marker-start="url(#ahKs)"/>
<path d="M61.6,181.8 L80.4,164.4" marker-end="url(#ahK)" marker-start="url(#ahKs)"/>
<path d="M658.7,178.2 L658.7,187.4" marker-end="url(#ahK)" marker-start="url(#ahKs)"/>
<path d="M661.5,204.6 L666.1,218" marker-end="url(#ahK)"/>
<path d="M672.3,238.5 L669,225" marker-end="url(#ahK)"/>
</g>
<g font-family='"Liberation Serif", serif' font-style="italic" fill="#111">
<text x="41.5" y="165" font-size="13">g</text>
<text x="11.6" y="201.5" font-size="13">t<tspan font-size="10" dy="2">w</tspan></text>
<text x="0" y="0" font-size="12.5" stroke="#fff" stroke-width="3" paint-order="stroke" stroke-linejoin="round" transform="translate(58.2,174.6) rotate(-38)" font-size="14">D<tspan font-size="10" dy="1.2">in</tspan></text>
<text x="663.2" y="184.2" font-size="13">g<tspan font-size="10" dy="2.4">cc</tspan></text>
<text x="656.5" y="237.5" font-size="13">t<tspan font-size="10" dy="2">w</tspan></text>
</g>
<text x="42.1" y="13" font-family='"Liberation Sans", sans-serif' font-size="17.2" fill="#40a4a4">Minimizes Mass</text>
<text x="506.2" y="12.9" font-family='"Liberation Sans", sans-serif' font-size="17.45" fill="#fa6446">Minimizes Thickness</text>
<g font-family='"Liberation Sans", sans-serif' font-size="12.6" fill="#1a1a1a">
<text x="40.1" y="128" font-size="13">Fractal</text>
<text x="29.1" y="283.2" font-size="13.1">Cylindrical</text>
<text x="521.1" y="127.8" font-size="13.15">Cylindrical</text>
<text x="515.4" y="283.2" font-size="13.3">Concentric</text>
</g>
<g font-family='"Liberation Serif", serif' fill="#1a1a1a" stroke="#1a1a1a" stroke-width="0.22">
<text x="84" y="128" font-size="13.8">(</text>
<text x="87.8" y="128" font-size="13.8" textLength="7.2" lengthAdjust="spacingAndGlyphs">2</text>
<text x="95.2" y="122.4" font-size="9.2" textLength="11" lengthAdjust="spacingAndGlyphs">nd</text>
<text x="107.2" y="128" font-size="13.8">,</text>
<text x="112.6" y="128" font-size="13.8" textLength="7.2" lengthAdjust="spacingAndGlyphs">3</text>
<text x="120.6" y="122.4" font-size="9.2" textLength="9" lengthAdjust="spacingAndGlyphs">rd</text>
<text x="134.3" y="128" font-size="14" textLength="31" lengthAdjust="spacingAndGlyphs">order</text>
<text x="168.7" y="128" font-size="13.8">)</text>
<text x="93" y="283.2" font-size="13.8">(</text>
<text x="97.4" y="283.2" font-size="13.8" font-style="italic" textLength="7.4" lengthAdjust="spacingAndGlyphs">g</text>
<text x="109.8" y="283.2" font-size="15.5" textLength="9.4" lengthAdjust="spacingAndGlyphs">&gt;</text>
<text x="123.8" y="283.2" font-size="13.8" textLength="20.6" lengthAdjust="spacingAndGlyphs">100</text>
<text x="147.3" y="283.2" font-size="13.8" font-style="italic" textLength="19.4" lengthAdjust="spacingAndGlyphs">μm</text>
<text x="166.6" y="283.2" font-size="13.8">)</text>
<text x="585.2" y="127.8" font-size="13.8">(</text>
<text x="589.8" y="127.8" font-size="13.8" font-style="italic" textLength="7.4" lengthAdjust="spacingAndGlyphs">g</text>
<text x="602" y="127.8" font-size="15.5" textLength="9.4" lengthAdjust="spacingAndGlyphs">&lt;</text>
<text x="614.9" y="127.8" font-size="13.8" textLength="14" lengthAdjust="spacingAndGlyphs">20</text>
<text x="632.1" y="127.8" font-size="13.8" font-style="italic" textLength="19.4" lengthAdjust="spacingAndGlyphs">μm</text>
<text x="651.3" y="127.8" font-size="13.8">)</text>
<text x="582.3" y="283.2" font-size="13.8">(</text>
<text x="586.5" y="283.2" font-size="13.8" font-style="italic" textLength="7.4" lengthAdjust="spacingAndGlyphs">g</text>
<text x="594" y="285" font-size="10" font-style="italic" textLength="10.4" lengthAdjust="spacingAndGlyphs">cc</text>
<text x="608.7" y="283.2" font-size="15.5" textLength="9.4" lengthAdjust="spacingAndGlyphs">&gt;</text>
<text x="622.1" y="283.2" font-size="13.8" textLength="14" lengthAdjust="spacingAndGlyphs">20</text>
<text x="638.6" y="283.2" font-size="13.8" font-style="italic" textLength="19.4" lengthAdjust="spacingAndGlyphs">μm</text>
<text x="657.2" y="283.2" font-size="13.8">)</text>
</g>
<g font-family='"Liberation Sans", sans-serif' fill="#222">
<rect x="209.5" y="36" width="18" height="212" fill="#fff"/>
<g transform="translate(226,0) rotate(-90)">
<text x="-247.2" y="0" font-size="16" textLength="126" lengthAdjust="spacingAndGlyphs">Energy Absorbed,</text>
<text x="-117.6" y="-1.2" font-size="17" font-family='"Liberation Serif", serif' font-style="italic" stroke="#222" stroke-width="0.35">W</text>
<text x="-102.8" y="4" font-size="10.5" font-family='"Liberation Serif", serif' font-style="italic" stroke="#222" stroke-width="0.3">L</text>
<text x="-91.4" y="0" font-size="16.5" textLength="41.5" lengthAdjust="spacingAndGlyphs">[kJ/m</text>
<text x="-49.8" y="-5.4" font-size="10.5">3</text>
<text x="-44" y="0" font-size="16.5">]</text>
</g>
</g>
</svg>
</body></html>
